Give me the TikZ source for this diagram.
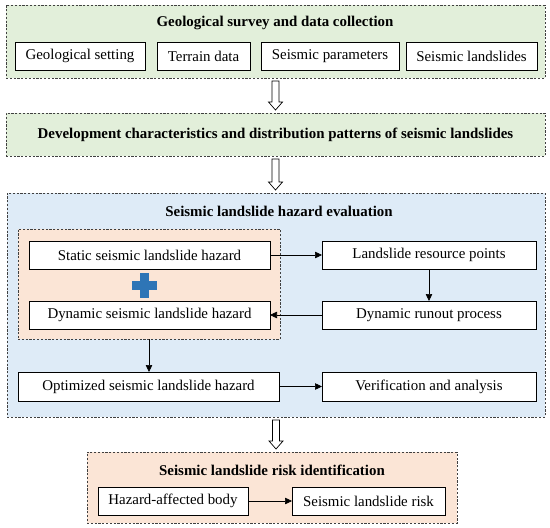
\documentclass[tikz,border=0pt]{standalone}
\usepackage{fontspec}
\setmainfont{Liberation Serif}
\usetikzlibrary{arrows.meta,calc}

\definecolor{stagegreen}{HTML}{E2EFDA}
\definecolor{stageblue}{HTML}{DEEBF7}
\definecolor{stageorange}{HTML}{FBE5D6}
\definecolor{plusblue}{HTML}{2E75B6}

\tikzset{
  stage/.style={draw=black!75, dash pattern=on 2.2pt off 1.6pt, line width=0.7pt,
    rectangle, inner sep=0pt, outer sep=0pt},
  item/.style={draw, fill=white, line width=0.7pt, rectangle, inner sep=0pt,
    outer sep=0pt, minimum height=28pt, font=\fontsize{14.9}{16}\selectfont},
  heading/.style={font=\bfseries\fontsize{14.9}{16}\selectfont, inner sep=0pt},
  flow/.style={-{Triangle[length=7pt,width=6.5pt]}, line width=0.6pt},
  hollow/.style={draw, fill=white, line width=0.7pt},
}

% hollow down arrow between two stages
\newcommand\hollowarrow[2]{%
  \draw[hollow] let \p1=($(#1)+(0,3)$), \p2=($(#2)+(0,-3)$) in
    (\x1-3.5pt,\y1) -- (\x1+3.5pt,\y1) -- (\x1+3.5pt,\y2+8pt) -- (\x1+7pt,\y2+8pt)
    -- (\x1,\y2) -- (\x1-7pt,\y2+8pt) -- (\x1-3.5pt,\y2+8pt) -- cycle;}

\begin{document}
\begin{tikzpicture}[x=1pt, y=-1pt]
    \useasboundingbox (0,0) rectangle (550,528);

    % Survey stage
    \node[stage, fill=stagegreen, minimum width=539pt, minimum height=73pt] (survey) at (275.5,41.5) {};
    \node[heading] (surveytitle) at (275,23) {Geological survey and data collection};
    \node[item, minimum width=130pt] (setting) at (80,56) {Geological setting};
    \node[item, minimum width=93pt] (terrain) at (203.5,56) {Terrain data};
    \node[item, minimum width=138pt] (params) at (330,56) {Seismic parameters};
    \node[item, minimum width=131pt] (slides) at (471.5,56) {Seismic landslides};

    % Pattern stage
    \node[stage, fill=stagegreen, minimum width=539pt, minimum height=43pt] (pattern) at (275.5,134.5) {};
    \node[heading] (patterntitle) at (pattern) {Development characteristics and distribution patterns of seismic landslides};

    % Evaluation stage
    \node[stage, fill=stageblue, minimum width=538pt, minimum height=224pt] (evaluation) at (276,305) {};
    \node[heading] (evaltitle) at (279,211) {Seismic landslide hazard evaluation};
    \node[stage, fill=stageorange, minimum width=262pt, minimum height=110pt] (combo) at (149,284) {};
    \node[item, minimum width=241pt] (static) at (149.5,255) {Static seismic landslide hazard};
    \node[item, minimum width=241pt] (dynamic) at (149.5,315) {Dynamic seismic landslide hazard};
    \node[item, minimum width=214pt] (resource) at (429,255) {Landslide resource points};
    \node[item, minimum width=214pt] (runout) at (429,315) {Dynamic runout process};
    \node[item, minimum width=261pt, minimum height=29pt] (optimized) at (148.5,386.5) {Optimized seismic landslide hazard};
    \node[item, minimum width=214pt, minimum height=29pt] (verify) at (429,386.5) {Verification and analysis};

    % Plus sign
    \coordinate (plus) at (144,285);
    \fill[plusblue] ($(plus)+(-12.5,-4.5)$) rectangle ($(plus)+(12.5,4.5)$);
    \fill[plusblue] ($(plus)+(-4.5,-12.5)$) rectangle ($(plus)+(4.5,12.5)$);

    % Risk stage
    \node[stage, fill=stageorange, minimum width=370pt, minimum height=71pt] (risk) at (272,487.5) {};
    \node[heading] (risktitle) at (272,470) {Seismic landslide risk identification};
    \node[item, minimum width=150pt] (body) at (173,501) {Hazard-affected body};
    \node[item, minimum width=153pt] (riskout) at (368.5,501) {Seismic landslide risk};

    % Connectors
    \draw[flow] (static) -- (resource);
    \draw[flow] (resource) -- (runout);
    \draw[flow] (runout) -- (dynamic);
    \draw[flow] (combo.south) -- (combo.south |- optimized.north);
    \draw[flow] (optimized) -- (verify);
    \draw[flow] (body) -- (riskout);

    % Hollow arrows between stages
    \hollowarrow{survey.south}{pattern.north}
    \hollowarrow{pattern.south}{evaluation.north}
    \hollowarrow{evaluation.south}{risk.north}
\end{tikzpicture}
\end{document}
